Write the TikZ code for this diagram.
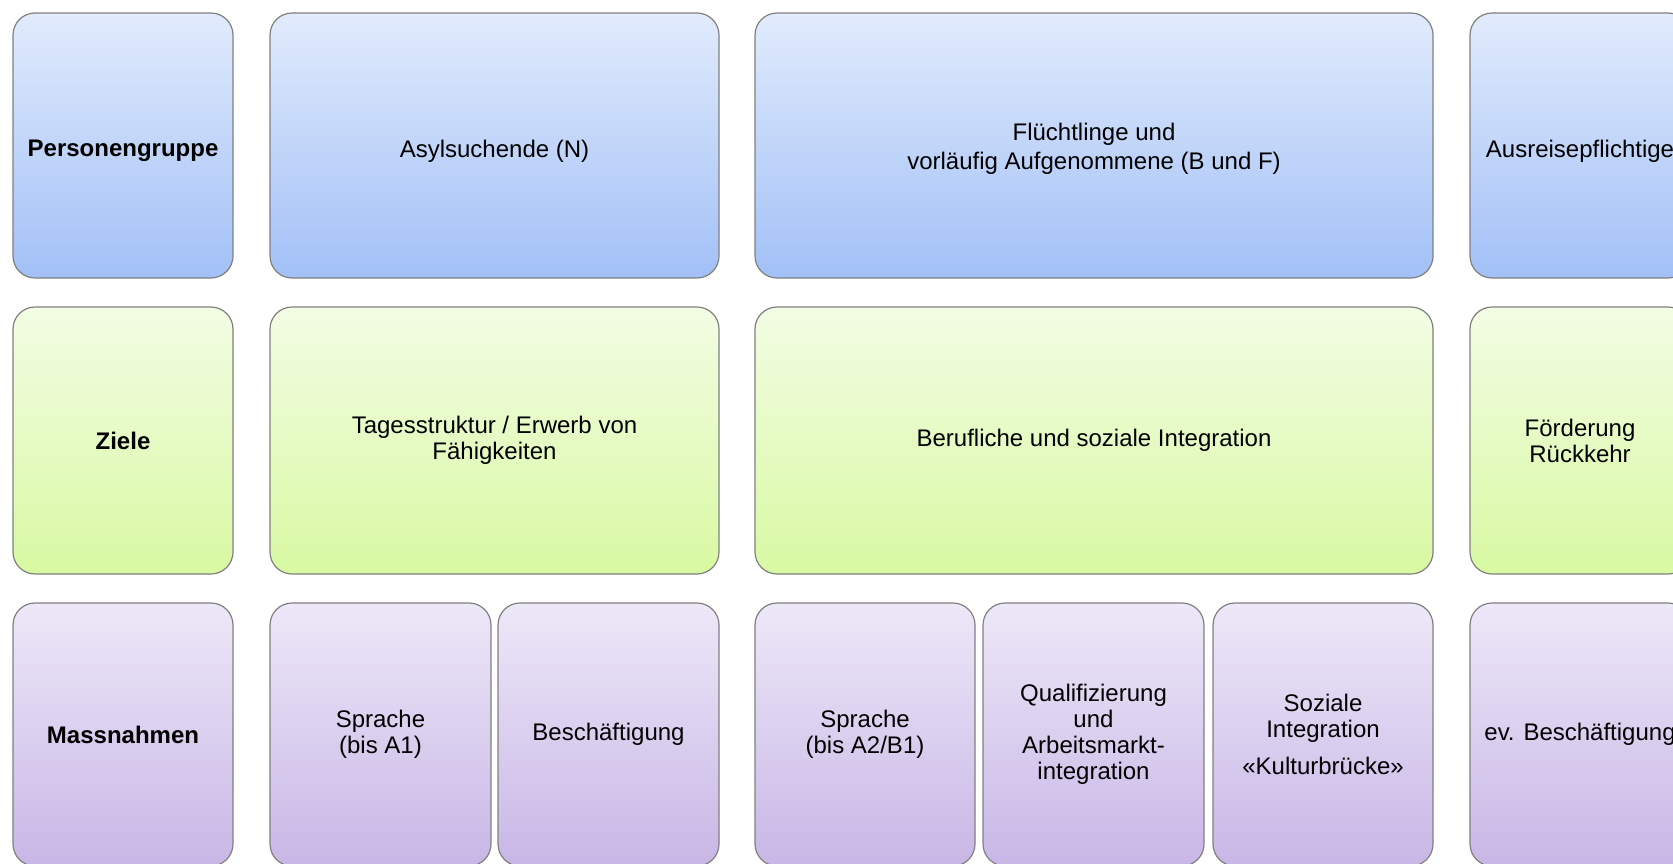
\documentclass[tikz,border=0pt]{standalone}
\usepackage{fontspec}
\setmainfont{Liberation Sans}
\definecolor{bluetop}{RGB}{225,235,252}
\definecolor{bluebot}{RGB}{162,192,247}
\definecolor{greentop}{RGB}{243,252,228}
\definecolor{greenbot}{RGB}{216,249,162}
\definecolor{purptop}{RGB}{237,232,248}
\definecolor{purpbot}{RGB}{200,182,230}
\definecolor{edge}{RGB}{128,128,128}
\newcommand{\lowerstrut}{\rule{0pt}{14pt}}
\tikzset{
  cell/.style={draw=edge, line width=0.6pt, rounded corners=11pt, inner sep=0pt,
    align=center, font=\fontsize{12}{13}\selectfont},
  bluecell/.style={cell, top color=bluetop, bottom color=bluebot},
  greencell/.style={cell, top color=greentop, bottom color=greenbot},
  purpcell/.style={cell, top color=purptop, bottom color=purpbot},
  r1/.style={minimum height=132.5pt},
  r2/.style={minimum height=133.5pt},
  r3/.style={minimum height=131.5pt},
}
\begin{document}
\begin{tikzpicture}[x=0.5pt,y=-0.5pt]
\useasboundingbox (0,0) rectangle (1673,863);
\clip (0,0) rectangle (1673,863);
% row 1
\node[bluecell,r1,minimum width=110pt] (pg) at (123,145.5) {\lowerstrut\bfseries Personengruppe};
\node[bluecell,r1,minimum width=224.5pt] (asyl) at (494.5,145.5) {\lowerstrut Asylsuchende (N)};
\node[bluecell,r1,minimum width=339pt] (fl) at (1094,145.5) {\rule{0pt}{12pt}Flüchtlinge und\\[1.5pt]vorläufig Aufgenommene (B und F)};
\node[bluecell,r1,minimum width=110pt] (aus) at (1580,145.5) {\lowerstrut Ausreisepflichtige};
% row 2
\node[greencell,r2,minimum width=110pt] (zi) at (123,440.5) {\bfseries Ziele};
\node[greencell,r2,minimum width=224.5pt] (tag) at (494.5,440.5) {Tagesstruktur / Erwerb von\\Fähigkeiten};
\node[greencell,r2,minimum width=339pt] (ber) at (1094,440.5) {Berufliche und soziale Integration};
\node[greencell,r2,minimum width=110pt] (foe) at (1580,440.5) {Förderung\\Rückkehr};
% row 3
\node[purpcell,r3,minimum width=110pt] (mn) at (123,734.5) {\bfseries Massnahmen};
\node[purpcell,r3,minimum width=110.5pt] (spa) at (380.5,734.5) {Sprache\\(bis A1)};
\node[purpcell,r3,minimum width=110.5pt] (bes) at (608.5,734.5) {Beschäftigung};
\node[purpcell,r3,minimum width=110pt] (spb) at (865,734.5) {Sprache\\(bis A2/B1)};
\node[purpcell,r3,minimum width=110.5pt] (qual) at (1093.5,734.5) {Qualifizierung\\und\\Arbeitsmarkt-\\integration};
\node[purpcell,r3,minimum width=110pt] (soz) at (1323,734.5) {Soziale\\Integration\\[5.5pt]«Kulturbrücke»};
\node[purpcell,r3,minimum width=110pt] (evb) at (1580,734.5) {ev. Beschäftigung};
\end{tikzpicture}
\end{document}
